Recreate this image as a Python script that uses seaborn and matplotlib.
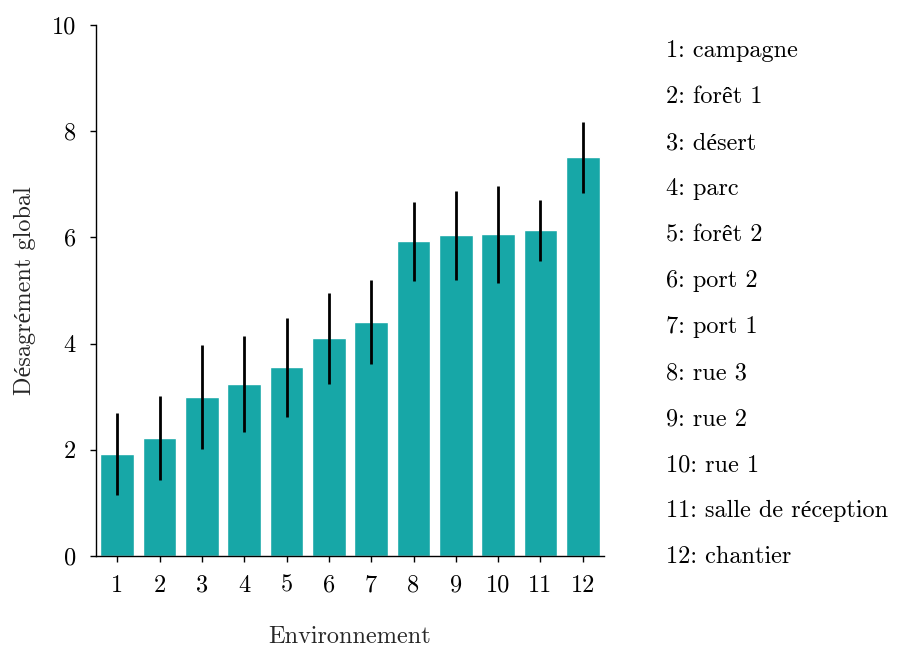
import matplotlib
matplotlib.use("Agg")
import matplotlib.pyplot as plt
import seaborn as sns
import pandas as pd

categories = ["1", "2", "3", "4", "5", "6", "7", "8", "9", "10", "11", "12"]
values = [1.92, 2.22, 2.99, 3.24, 3.56, 4.11, 4.41, 5.93, 6.05, 6.06, 6.14, 7.51]
err_low = [1.14, 1.44, 2.02, 2.34, 2.62, 3.24, 3.62, 5.18, 5.20, 5.14, 5.56, 6.84]
err_high = [2.69, 3.01, 3.97, 4.14, 4.49, 4.95, 5.20, 6.66, 6.87, 6.97, 6.70, 8.17]
names = ["campagne", "forêt 1", "désert", "parc", "forêt 2", "port 2", "port 1",
         "rue 3", "rue 2", "rue 1", "salle de réception", "chantier"]
yticks = [0, 2, 4, 6, 8, 10]

FS = 17.5

sns.set_theme(style="ticks")
plt.rcParams["font.family"] = ["cmr10", "Liberation Serif"]
plt.rcParams["axes.formatter.use_mathtext"] = True
plt.rcParams["font.size"] = FS

fig = plt.figure(figsize=(9, 6.47), dpi=100)
ax = fig.add_axes([96 / 900, 91 / 647, 508 / 900, 531 / 647])

df = pd.DataFrame({"env": categories, "val": values})
sns.barplot(data=df, x="env", y="val", order=categories, color="#17a7a7",
            saturation=1, width=0.8, errorbar=None, ax=ax)

lower = [v - l for v, l in zip(values, err_low)]
upper = [h - v for v, h in zip(values, err_high)]
ax.errorbar(x=list(range(len(categories))), y=values, yerr=[lower, upper],
            fmt="none", ecolor="black", elinewidth=2.0, capsize=0)

ax.set_xlim(-0.5, len(categories) - 0.5)
ax.set_ylim(0, 10)
ax.set_yticks(yticks)
ax.set_yticklabels([str(t) for t in yticks])
ax.set_xlabel("Environnement", fontsize=FS, labelpad=21)
ax.set_ylabel("Désagrément global", fontsize=FS, labelpad=11)
ax.tick_params(axis="both", labelsize=FS, length=4.5, width=1, color="black",
               labelcolor="black", direction="out")
ax.tick_params(axis="x", pad=9)
ax.tick_params(axis="y", pad=10)
for s in ["left", "bottom"]:
    ax.spines[s].set_color("black")
    ax.spines[s].set_linewidth(1.0)
sns.despine(ax=ax)

y0 = 1 - 51 / 647
step = 46 / 647
for i, n in enumerate(names):
    fig.text(666 / 900, y0 - i * step, f"{categories[i]}: {n}", fontsize=FS,
             ha="left", va="center", color="black")

fig.savefig("out.png", dpi=100)
